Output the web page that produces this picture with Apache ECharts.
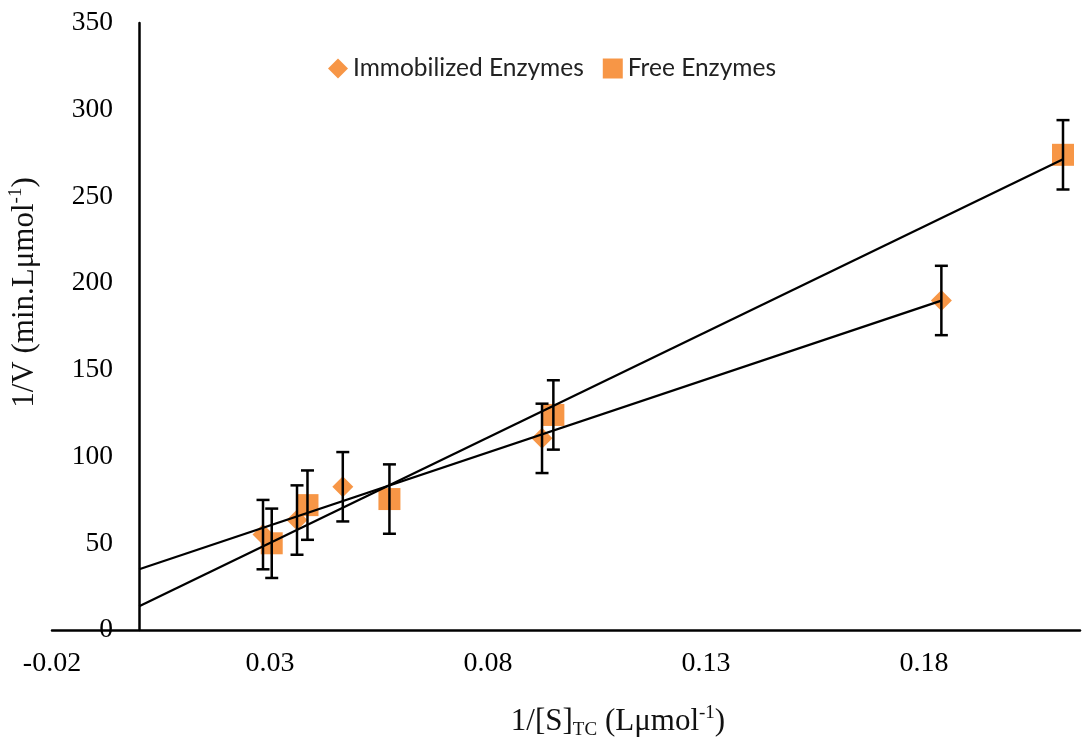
<!DOCTYPE html>
<html>
<head>
<meta charset="utf-8">
<script src="https://cdn.jsdelivr.net/npm/echarts@6/dist/echarts.min.js"></script>
<style>html,body{margin:0;padding:0;background:#fff}#c{width:1092px;height:745px}</style>
</head>
<body>
<div id="c"></div>
<script>
// Data
const immobX = [0.0284, 0.0362, 0.0467, 0.0924, 0.1840];
const immobY = [55, 63.4, 82.6, 110.5, 190];
const freeX = [0.0304, 0.0386, 0.0574, 0.0950, 0.2119];
const freeY = [50, 72, 75.5, 124, 274];
const errorSize = 20;
const seriesNames = ['Immobilized Enzymes', 'Free Enzymes'];
const xTicks = { min: -0.02, max: 0.2158, interval: 0.05 };
const yTicks = { min: 0, max: 350, interval: 50 };

function fit(xs, ys) {
  const n = xs.length;
  const mx = xs.reduce((a, b) => a + b, 0) / n;
  const my = ys.reduce((a, b) => a + b, 0) / n;
  let sxy = 0, sxx = 0;
  for (let i = 0; i < n; i++) { sxy += (xs[i] - mx) * (ys[i] - my); sxx += (xs[i] - mx) ** 2; }
  const m = sxy / sxx, b = my - m * mx;
  const xe = Math.max(...xs);
  return [[0, b], [xe, b + m * xe]];
}
const pts = (xs, ys) => xs.map((x, i) => [x, ys[i], errorSize]);

const orange = '#F79646';
const serif = 'Liberation Serif';
const errRender = function (params, api) {
  const x = api.value(0), y = api.value(1), e = api.value(2);
  const top = api.coord([x, y + e]);
  const bot = api.coord([x, y - e]);
  const hw = 6.5;
  const st = { stroke: '#000', lineWidth: 2.5 };
  return {
    type: 'group',
    children: [
      { type: 'line', shape: { x1: top[0], y1: top[1], x2: bot[0], y2: bot[1] }, style: st },
      { type: 'line', shape: { x1: top[0] - hw, y1: top[1], x2: top[0] + hw, y2: top[1] }, style: st },
      { type: 'line', shape: { x1: bot[0] - hw, y1: bot[1], x2: bot[0] + hw, y2: bot[1] }, style: st }
    ]
  };
};

const titleRich = {
  a: { fontFamily: serif, fontSize: 31, color: '#111', lineHeight: 36 },
  sub: { fontFamily: serif, fontSize: 19, color: '#111', verticalAlign: 'bottom', lineHeight: 36 },
  sup: { fontFamily: serif, fontSize: 19, color: '#111', verticalAlign: 'top', lineHeight: 36 }
};

const chart = echarts.init(document.getElementById('c'));
chart.setOption({
  animation: false,
  backgroundColor: '#fff',
  grid: { left: 52, right: 12, top: 23, bottom: 115, containLabel: false, outerBoundsMode: 'none' },
  legend: {
    data: [
      { name: seriesNames[0], icon: 'diamond' },
      { name: seriesNames[1], icon: 'rect' }
    ],
    top: 51, left: 323,
    itemWidth: 20, itemHeight: 20, itemGap: 19,
    textStyle: { fontFamily: 'Lato', fontSize: 24.5, color: '#222' }
  },
  xAxis: {
    type: 'value', min: xTicks.min, max: xTicks.max, interval: xTicks.interval,
    splitLine: { show: false },
    axisTick: { show: false },
    axisLine: { onZero: false, lineStyle: { color: '#000', width: 2.5 } },
    axisLabel: {
      showMaxLabel: false, margin: 20, color: '#000', fontFamily: serif, fontSize: 28,
      formatter: v => v.toFixed(2)
    },
    name: '{a|1/[S]}{sub|TC}{a| (Lμmol}{sup|-1}{a|)}',
    nameLocation: 'middle', nameGap: 74,
    nameTextStyle: { padding: [0, 0, 0, 104], rich: titleRich }
  },
  yAxis: {
    type: 'value', min: yTicks.min, max: yTicks.max, interval: yTicks.interval,
    splitLine: { show: false },
    axisTick: { show: false },
    axisLine: { onZero: true, lineStyle: { color: '#000', width: 2.5 } },
    axisLabel: { margin: -61, color: '#000', fontFamily: serif, fontSize: 27.5 },
    name: '{a|1/V (min.Lμmol}{sup|-1}{a|)}',
    nameLocation: 'middle', nameGap: 9, nameRotate: 90,
    nameTextStyle: { padding: [0, 0, 0, 68], rich: titleRich }
  },
  series: [
    {
      name: seriesNames[0], type: 'scatter', symbol: 'diamond', symbolSize: 21,
      itemStyle: { color: orange, opacity: 1 }, data: pts(immobX, immobY), z: 2
    },
    {
      name: seriesNames[1], type: 'scatter', symbol: 'rect', symbolSize: 22,
      itemStyle: { color: orange, opacity: 1 }, data: pts(freeX, freeY), z: 2
    },
    { type: 'custom', renderItem: errRender, data: pts(immobX, immobY), z: 3, encode: { x: 0, y: 1 } },
    { type: 'custom', renderItem: errRender, data: pts(freeX, freeY), z: 3, encode: { x: 0, y: 1 } },
    {
      type: 'line', data: fit(immobX, immobY), showSymbol: false, symbol: 'none', z: 4,
      lineStyle: { color: '#000', width: 2.3 }, silent: true
    },
    {
      type: 'line', data: fit(freeX, freeY), showSymbol: false, symbol: 'none', z: 4,
      lineStyle: { color: '#000', width: 2.3 }, silent: true
    }
  ]
});
</script>
</body>
</html>
